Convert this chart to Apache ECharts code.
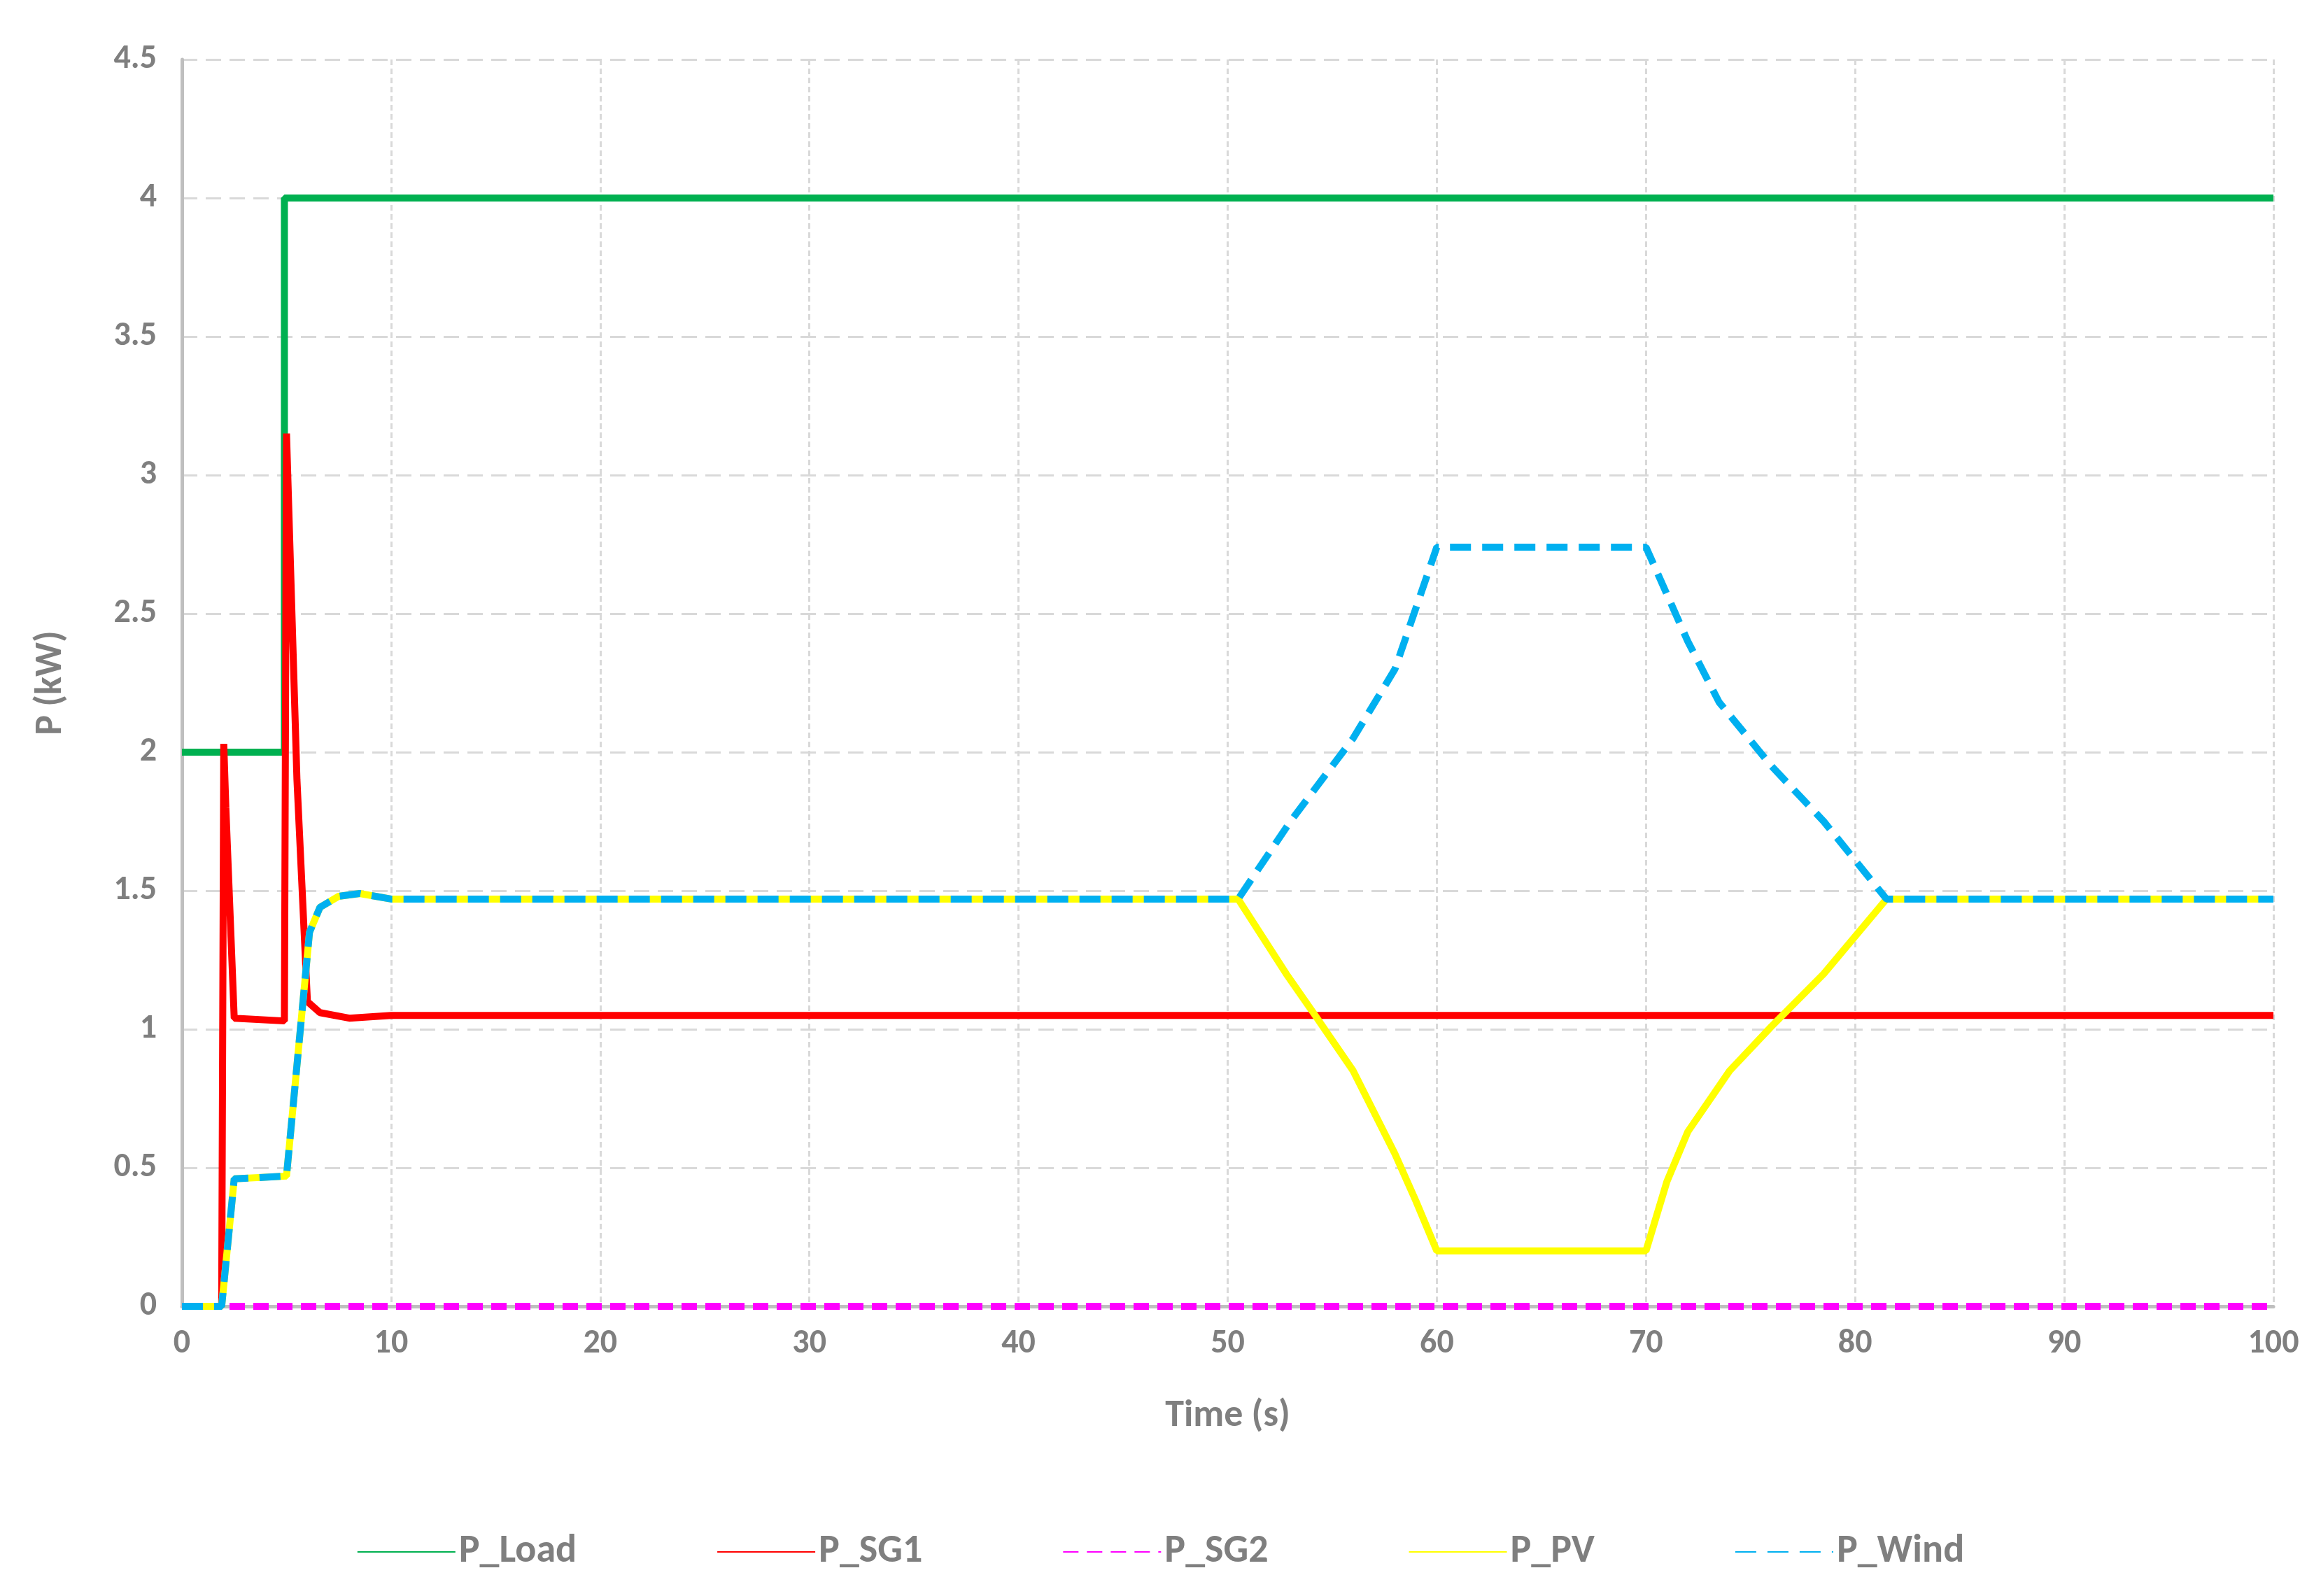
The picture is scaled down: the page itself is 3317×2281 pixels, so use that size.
<!DOCTYPE html>
<html>
<head>
<meta charset="utf-8">
<script src="https://cdn.jsdelivr.net/npm/echarts@6/dist/echarts.min.js"></script>
<style>
  html, body { margin: 0; padding: 0; background: #fff; }
  #chart { width: 3317px; height: 2281px; }
</style>
</head>
<body>
<div id="chart"></div>
<script>
// time (s), power (kW) pairs
const pLoad = [[0, 2], [4.9, 2], [4.9, 4], [100, 4]];
const pSG1 = [[0, 0], [1.9, 0], [2.0, 2.03], [2.1, 1.8], [2.5, 1.04], [4.9, 1.03], [5.0, 3.15],
  [5.5, 1.9], [6.0, 1.1], [6.6, 1.06], [8, 1.04], [10, 1.05], [100, 1.05]];
const pSG2 = [[0, 0], [100, 0]];
const pPV = [[0, 0], [1.9, 0], [2.5, 0.46], [5, 0.47], [5.6, 0.95], [6.1, 1.35], [6.6, 1.44],
  [7.5, 1.48], [8.5, 1.49], [10, 1.47], [50.5, 1.47], [52.8, 1.2], [54, 1.07], [56, 0.85],
  [58, 0.55], [59, 0.38], [60, 0.2], [70, 0.2], [71, 0.45], [72, 0.63], [74, 0.85],
  [76, 1.01], [78.5, 1.2], [81.5, 1.47], [100, 1.47]];
const pWind = [[0, 0], [1.9, 0], [2.5, 0.46], [5, 0.47], [5.6, 0.95], [6.1, 1.35], [6.6, 1.44],
  [7.5, 1.48], [8.5, 1.49], [10, 1.47], [50.5, 1.47], [53, 1.75], [56, 2.05], [58, 2.3],
  [60, 2.74], [70, 2.74], [72, 2.4], [73.5, 2.18], [76, 1.95], [78.5, 1.75], [81.5, 1.47],
  [100, 1.47]];

const gray = '#7f7f7f';
const font = 'Carlito, Calibri, "Open Sans", sans-serif';

let line = (name, data, color, type) => ({
  name, type: 'line', data, showSymbol: false, symbol: 'none',
  lineStyle: { color, width: 10, type: type || 'solid', cap: 'butt' },
  itemStyle: { color }
});

const chart = echarts.init(document.getElementById('chart'));
chart.setOption({
  backgroundColor: '#fff',
  animation: false,
  grid: { left: 260, right: 68, top: 85, bottom: 414 },
  xAxis: {
    type: 'value', min: 0, max: 100, interval: 10,
    name: 'Time (s)', nameLocation: 'middle', nameGap: 130,
    nameTextStyle: { color: gray, fontSize: 54, fontWeight: 'bold', fontFamily: font },
    axisLine: { lineStyle: { color: '#bfbfbf', width: 5 } },
    axisTick: { show: false },
    axisLabel: { color: gray, fontSize: 48, fontWeight: 'bold', fontFamily: font, margin: 30 },
    splitLine: { lineStyle: { color: '#d9d9d9', width: 3, type: [8, 5] } }
  },
  yAxis: {
    type: 'value', min: 0, max: 4.5, interval: 0.5,
    name: 'P (kW)', nameLocation: 'middle', nameGap: 160,
    nameTextStyle: { color: gray, fontSize: 54, fontWeight: 'bold', fontFamily: font },
    axisLine: { show: true, lineStyle: { color: '#bfbfbf', width: 5 } },
    axisTick: { show: false },
    axisLabel: { color: gray, fontSize: 48, fontWeight: 'bold', fontFamily: font, margin: 36 },
    splitLine: { lineStyle: { color: '#d9d9d9', width: 3, type: [22, 12] } }
  },
  legend: {
    bottom: 30, left: 'center', itemGap: 200, itemWidth: 140, itemHeight: 20,
    itemStyle: { opacity: 0, borderWidth: 0 },
    textStyle: { color: gray, fontSize: 56, fontWeight: 'bold', fontFamily: font },
    data: ['P_Load', 'P_SG1', 'P_SG2', 'P_PV', 'P_Wind']
  },
  series: [
    line('P_Load', pLoad, '#00b050'),
    line('P_SG1', pSG1, '#ff0000'),
    line('P_SG2', pSG2, '#ff00ff', [22, 12]),
    line('P_PV', pPV, '#ffff00'),
    line('P_Wind', pWind, '#00b0f0', [30, 16])
  ]
});
</script>
</body>
</html>
